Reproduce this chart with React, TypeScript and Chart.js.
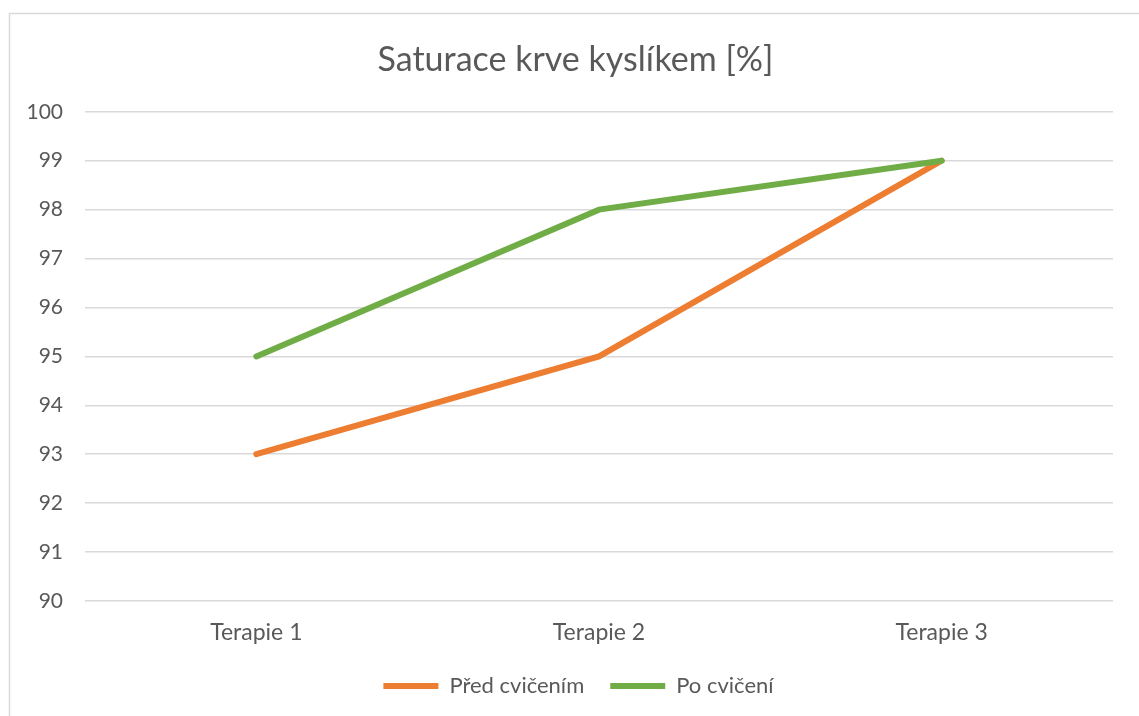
import React, { useEffect, useRef } from "react";
import { Chart, registerables } from "chart.js";

Chart.register(...registerables);

const TITLE = "Saturace krve kyslíkem [%]";
const CATEGORIES = ["Terapie 1", "Terapie 2", "Terapie 3"];
const PRED_LABEL = "Před cvičením";
const PO_LABEL = "Po cvičení";
const PRED_VALUES = [93, 95, 99];
const PO_VALUES = [95, 98, 99];
const Y_MIN = 90;
const Y_MAX = 100;
const Y_STEP = 1;

const FONT = "Lato, 'Open Sans', sans-serif";
const TEXT = "#595959";
const GRID = "#d9d9d9";

const borderPlugin = {
  id: "frame",
  beforeDraw(chart: any) {
    const ctx = chart.ctx;
    ctx.save();
    ctx.fillStyle = "#ffffff";
    ctx.fillRect(0, 0, chart.width, chart.height);
    ctx.strokeStyle = GRID;
    ctx.lineWidth = 1.5;
    ctx.strokeRect(9.5, 13.5, chart.width + 50, chart.height + 50);
    ctx.restore();
  },
};

// centre title and legend on the whole frame rather than on the padded box
const centerPlugin = {
  id: "centerBoxes",
  afterLayout(chart: any) {
    const t = chart.titleBlock;
    if (t) {
      t.left += 19;
      t.right += 19;
    }
    const l = chart.legend;
    if (l) {
      l.left += 22;
      l.right += 22;
    }
  },
};

export default function App() {
  const ref = useRef<HTMLCanvasElement | null>(null);
  useEffect(() => {
    if (!ref.current) return;
    const chart = new Chart(ref.current, {
      type: "line",
      data: {
        labels: CATEGORIES,
        datasets: [
          {
            label: PRED_LABEL,
            data: PRED_VALUES,
            borderColor: "#ED7D31",
            backgroundColor: "#ED7D31",
            borderWidth: 6,
            pointRadius: 0,
            borderCapStyle: "round",
            order: 2,
          },
          {
            label: PO_LABEL,
            data: PO_VALUES,
            borderColor: "#70AD47",
            backgroundColor: "#70AD47",
            borderWidth: 6,
            pointRadius: 0,
            borderCapStyle: "round",
            order: 1,
          },
        ],
      },
      options: {
        animation: false,
        responsive: true,
        maintainAspectRatio: false,
        layout: { padding: { left: 0, right: 26, top: 0, bottom: 9 } },
        plugins: {
          title: {
            display: true,
            text: TITLE,
            color: TEXT,
            font: { family: FONT, size: 34, weight: "normal" },
            padding: { top: 40, bottom: 31 },
          },
          legend: {
            position: "bottom",
            labels: {
              usePointStyle: true,
              pointStyle: "line",
              pointStyleWidth: 55,
              color: TEXT,
              font: { family: FONT, size: 22 },
              padding: 26,
              sort: (a: any, b: any) => a.datasetIndex - b.datasetIndex,
            },
          },
          tooltip: { enabled: false },
        },
        scales: {
          x: {
            offset: true,
            grid: { display: false, drawTicks: false, offset: true },
            border: { display: false },
            ticks: {
              color: TEXT,
              font: { family: FONT, size: 23 },
              padding: 18,
            },
            afterFit(scale: any) {
              scale.height = 48;
            },
          },
          y: {
            min: Y_MIN,
            max: Y_MAX,
            grid: { color: GRID, lineWidth: 1.5, drawTicks: false },
            border: { display: false },
            ticks: {
              stepSize: Y_STEP,
              color: TEXT,
              font: { family: FONT, size: 21 },
              padding: 22,
            },
            afterFit(scale: any) {
              scale.width = 85;
            },
          },
        },
      },
      plugins: [borderPlugin, centerPlugin],
    });
    return () => chart.destroy();
  }, []);

  return (
    <div style={{ position: "fixed", left: 0, top: 0, width: 1139, height: 716, background: "#fff" }}>
      <canvas ref={ref} />
    </div>
  );
}
